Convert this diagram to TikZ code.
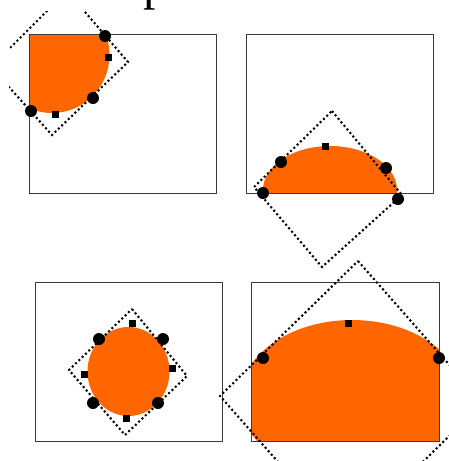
\documentclass[tikz,border=0pt]{standalone}
\usepackage{fontspec}
\newfontfamily\titlefont{Liberation Serif}
\definecolor{blobfill}{HTML}{FF6600}
\definecolor{framegray}{HTML}{3A3A3A}

\begin{document}
\begin{tikzpicture}[x=1pt, y=-1pt,
    panel/.style={draw=framegray, line width=0.9pt},
    blob/.style={fill=blobfill},
    bbox/.style={draw=black, line width=2.1pt, dash pattern=on 2pt off 2.6pt},
    hit/.style={circle, fill=black, inner sep=0pt, minimum size=12pt},
    mid/.style={rectangle, fill=black, inner sep=0pt, minimum size=7pt}
  ]
  \useasboundingbox (0,0) rectangle (448,461);

  % letter cut off at the top
  \node[anchor=south west, inner sep=0pt, font=\titlefont\fontsize{50}{50}\selectfont] (title) at (143,10) {p};

  % top left: blob in the corner
  \begin{scope}
    \clip (29,34) rectangle (216,193);
    \fill[blob] (52,55) ellipse [x radius=57.5, y radius=58];
  \end{scope}
  \draw[panel] (29,34) rectangle (216,193);
  \begin{scope}
    \clip (9,11) rectangle (448,461);
    \draw[bbox] (67,-9) -- (128,62) -- (52,135) -- (-9,67) -- cycle;
  \end{scope}
  \foreach \p [count=\i] in {(105,36),(93,98),(31,111)}
    \node[hit] (a\i) at \p {};
  \foreach \p [count=\i] in {(108,57),(55,114)}
    \node[mid] (am\i) at \p {};

  % top right: blob on the bottom edge
  \begin{scope}
    \clip (246,34) rectangle (433,193);
    \fill[blob] (330,190) ellipse [x radius=67, y radius=44];
  \end{scope}
  \draw[panel] (246,34) rectangle (433,193);
  \draw[bbox] (332,111) -- (402,195) -- (322,267) -- (254,187) -- cycle;
  \foreach \p [count=\i] in {(263,193),(281,162),(386,168),(398,199)}
    \node[hit] (b\i) at \p {};
  \node[mid] (bm1) at (325,146) {};

  % bottom left: whole blob
  \fill[blob] (128.5,371.5) ellipse [x radius=41, y radius=44.5];
  \draw[panel] (35,282) rectangle (222,441);
  \draw[bbox] (132,309) -- (187,376) -- (125,435) -- (69,370) -- cycle;
  \foreach \p [count=\i] in {(99,339),(163,339),(93,403),(158,403)}
    \node[hit] (c\i) at \p {};
  \foreach \p [count=\i] in {(132,323),(172,368),(126,418),(84,374)}
    \node[mid] (cm\i) at \p {};

  % bottom right: blob larger than the frame
  \begin{scope}
    \clip (251,282) rectangle (439,441);
    \fill[blob] (352,399) ellipse [x radius=112, y radius=79];
  \end{scope}
  \draw[panel] (251,282) rectangle (439,441);
  \draw[bbox] (358,261) -- (483,403) -- (345,538) -- (220,396) -- cycle;
  \foreach \p [count=\i] in {(263,358),(439,358)}
    \node[hit] (d\i) at \p {};
  \node[mid] (dm1) at (348,323) {};
\end{tikzpicture}
\end{document}
